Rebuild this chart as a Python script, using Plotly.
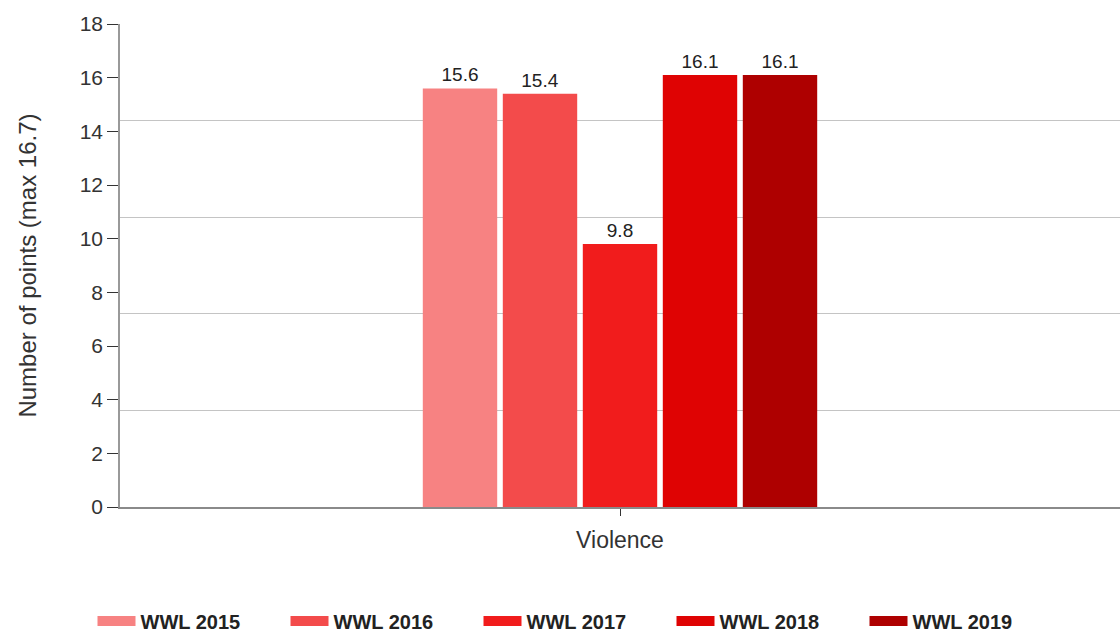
import plotly.graph_objects as go

categories = ["Violence"]
series_names = ["WWL 2015", "WWL 2016", "WWL 2017", "WWL 2018", "WWL 2019"]
series_values = [[15.6], [15.4], [9.8], [16.1], [16.1]]
colors = ["#F78282", "#F34B4B", "#F11C1C", "#DF0303", "#AE0000"]
y_tick_vals = [0, 2, 4, 6, 8, 10, 12, 14, 16, 18]
grid_vals = [3.6, 7.2, 10.8, 14.4, 18]

fig = go.Figure()
for name, vals, col in zip(series_names, series_values, colors):
    fig.add_trace(go.Bar(
        x=categories, y=vals, name=name, marker=dict(color=col, line=dict(width=0)),
        text=[f"{v:.1f}" for v in vals], textposition="outside",
        textfont=dict(size=19, color="#222222"), cliponaxis=False,
        showlegend=False, legendgroup=name,
    ))
# legend entries (wide swatches like the original)
for name, col in zip(series_names, colors):
    fig.add_trace(go.Scatter(
        x=[None], y=[None], mode="lines", name=f"<b>{name}</b>",
        line=dict(color=col, width=13), legendgroup=name, showlegend=True,
    ))

font_family = "Liberation Sans, Arial, sans-serif"
fig.update_layout(
    width=1120, height=634,
    margin=dict(l=120, r=0, t=24, b=127, autoexpand=False),
    paper_bgcolor="white", plot_bgcolor="white",
    font=dict(family=font_family, color="#333333"),
    barmode="group", bargap=0.6, bargroupgap=0.07,
    uniformtext=dict(minsize=19, mode="show"),
    xaxis=dict(
        showline=True, linecolor="#8a8a8a", linewidth=1.5,
        ticks="outside", ticklen=7, tickcolor="#333333", ticklabelstandoff=5,
        tickfont=dict(size=23, color="#333333"), showgrid=False, automargin=False,
    ),
    yaxis=dict(
        range=[0, 18], tickvals=y_tick_vals,
        showgrid=False, zeroline=False,
        showline=True, linecolor="#999999", linewidth=1.5,
        ticks="outside", ticklen=11, tickcolor="#333333",
        tickfont=dict(size=21, color="#333333"), automargin=False,
        minor=dict(tickvals=grid_vals, showgrid=True, gridcolor="#c4c4c4", gridwidth=1.3, ticks=""),
        title=dict(text="Number of points (max 16.7)", font=dict(size=24, color="#333333"), standoff=36),
    ),
    legend=dict(
        orientation="h", x=0.455, xanchor="center", y=-0.236, yanchor="middle",
        font=dict(size=20, color="#222222", family=font_family),
        itemwidth=38, traceorder="normal", entrywidth=140,
    ),
)

fig.write_html("out.html", config={"displayModeBar": False},
               post_script="document.body.style.margin='0';")
